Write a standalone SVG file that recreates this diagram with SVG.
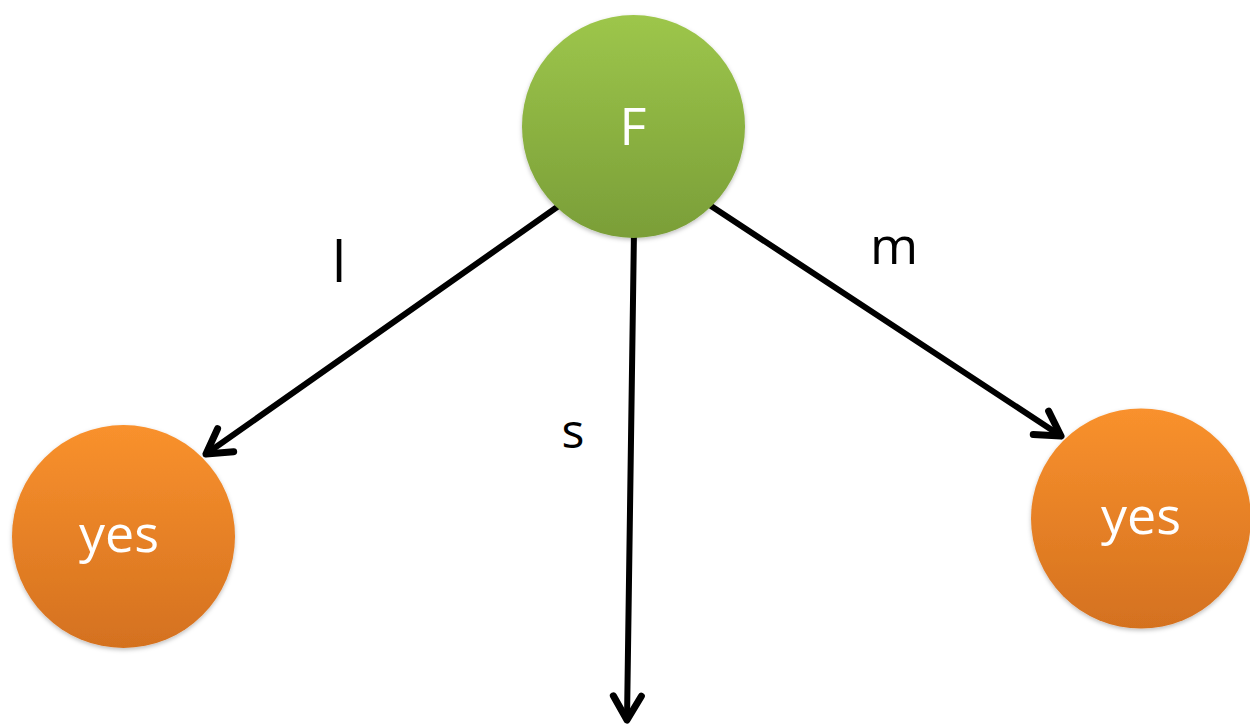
<svg xmlns="http://www.w3.org/2000/svg" width="1250" height="728" viewBox="0 0 1250 728">
<style>
.edge{stroke:#000;stroke-width:6;fill:none;stroke-linecap:round}
.lbl{font-family:"Open Sans","Noto Sans",sans-serif;fill:#000;text-anchor:middle}
.nlbl{font-family:"Open Sans","Noto Sans",sans-serif;fill:#fff;text-anchor:middle}
</style>
<defs>
<linearGradient id="gGreen" x1="0" y1="0" x2="0" y2="1">
<stop offset="0" stop-color="#9dc64b"/>
<stop offset="1" stop-color="#7a9e38"/>
</linearGradient>
<linearGradient id="gOrange" x1="0" y1="0" x2="0" y2="1">
<stop offset="0" stop-color="#f9912d"/>
<stop offset="1" stop-color="#d4711f"/>
</linearGradient>
<filter id="sh" x="-20%" y="-20%" width="140%" height="140%">
<feDropShadow dx="0" dy="2" stdDeviation="2" flood-color="#000" flood-opacity="0.25"/>
</filter>
<marker id="arr" markerUnits="userSpaceOnUse" viewBox="-32 -22 40 44" refX="0" refY="0" markerWidth="40" markerHeight="44" orient="auto">
<path d="M-24,-14 L0,0 L-24,14" fill="none" stroke="#000" stroke-width="7" stroke-linecap="round" stroke-linejoin="round"/>
</marker>
</defs>
<g id="connectors">
<line class="edge" x1="560" y1="205" x2="206" y2="454" marker-end="url(#arr)"/>
<line class="edge" x1="634" y1="230" x2="627" y2="720" marker-end="url(#arr)"/>
<line class="edge" x1="708" y1="204" x2="1061" y2="436" marker-end="url(#arr)"/>
<text class="lbl" x="339" y="282" font-size="56">l</text>
<text class="lbl" x="894" y="264" font-size="52">m</text>
<text class="lbl" x="573" y="448" font-size="48">s</text>
</g>
<g id="node-F">
<circle cx="633.5" cy="126.5" r="111.5" fill="url(#gGreen)" filter="url(#sh)"/>
<text class="nlbl" x="633" y="145" font-size="52">F</text>
</g>
<g id="node-yes-left">
<circle cx="123.5" cy="536.5" r="111.5" fill="url(#gOrange)" filter="url(#sh)"/>
<text class="nlbl" x="119" y="552" font-size="52">yes</text>
</g>
<g id="node-yes-right">
<circle cx="1141" cy="518.5" r="110" fill="url(#gOrange)" filter="url(#sh)"/>
<text class="nlbl" x="1141" y="534" font-size="52">yes</text>
</g>
</svg>
